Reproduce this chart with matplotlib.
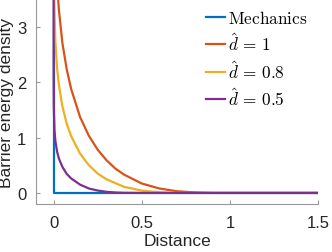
import matplotlib
matplotlib.use("Agg")
import matplotlib.pyplot as plt

plt.rcParams['font.family'] = ['Liberation Sans', 'DejaVu Sans']
plt.rcParams['mathtext.fontset'] = 'cm'

# values
mech_x = [0, 0, 1.5]
mech_y = [3.6, 0, 0]

d1_x = [0.02, 0.03, 0.05, 0.075, 0.1, 0.15, 0.2, 0.25, 0.3, 0.35, 0.4, 0.5, 0.6, 0.7, 0.8, 0.9, 1.0, 1.5]
d1_y = [3.76, 3.30, 2.70, 2.22, 1.87, 1.37, 1.03, 0.78, 0.59, 0.44, 0.33, 0.17, 0.08, 0.03, 0.01, 0.0, 0.0, 0.0]

d08_x = [0.002, 0.004, 0.01, 0.02, 0.03, 0.05, 0.075, 0.1, 0.15, 0.2, 0.25, 0.3, 0.4, 0.5, 0.6, 0.7, 0.8, 1.5]
d08_y = [3.81, 3.36, 2.73, 2.24, 1.95, 1.56, 1.24, 1.02, 0.71, 0.50, 0.35, 0.245, 0.11, 0.042, 0.012, 0.0, 0.0, 0.0]

d05_x = [1e-7, 1e-5, 1e-4, 0.001, 0.005, 0.01, 0.02, 0.03, 0.05, 0.075, 0.1, 0.15, 0.2, 0.25, 0.3, 0.35, 0.4, 0.5, 1.5]
d05_y = [3.85, 2.70, 2.13, 1.55, 1.13, 0.94, 0.74, 0.62, 0.47, 0.34, 0.26, 0.15, 0.08, 0.043, 0.02, 0.008, 0.002, 0.0, 0.0]

fig = plt.figure(figsize=(3.32, 2.53), dpi=100)
ax = fig.add_axes([0.1084, 0.1897, 0.8496, 0.8103])

lw = 1.6
ax.plot(mech_x, mech_y, color='#0072BD', lw=lw, label=r'$\mathrm{Mechanics}$')
ax.plot(d1_x, d1_y, color='#D95319', lw=lw, label=r'$\hat{d}\,=\,1$')
ax.plot(d08_x, d08_y, color='#EDB120', lw=lw, label=r'$\hat{d}\,=\,0.8$')
ax.plot(d05_x, d05_y, color='#7E2F8E', lw=lw, label=r'$\hat{d}\,=\,0.5$')

ax.set_xlim(-0.1, 1.5)
ax.set_ylim(-0.2, 3.5)
ax.set_xticks([0, 0.5, 1, 1.5])
ax.set_xticklabels(['0', '0.5', '1', '1.5'])
ax.set_yticks([0, 1, 2, 3])

for s in ['top', 'right']:
    ax.spines[s].set_visible(False)
for s in ['left', 'bottom']:
    ax.spines[s].set_color('#999999')
    ax.spines[s].set_linewidth(0.8)
ax.tick_params(direction='in', length=3, width=0.8, color='#999999',
               labelsize=12, labelcolor='#262626')
ax.tick_params(axis='x', pad=8)
ax.tick_params(axis='y', pad=7)

ax.set_xlabel('Distance', fontsize=12.5, color='#262626', labelpad=2)
ax.set_ylabel('Barrier energy density', fontsize=12.5, color='#262626', labelpad=2)

ax.legend(loc='upper right', frameon=False, fontsize=12.4, handlelength=1.1,
          handletextpad=0.2, labelspacing=0.3, borderaxespad=0.2,
          bbox_to_anchor=(1.0, 1.0))

fig.savefig('out.png', dpi=100)
